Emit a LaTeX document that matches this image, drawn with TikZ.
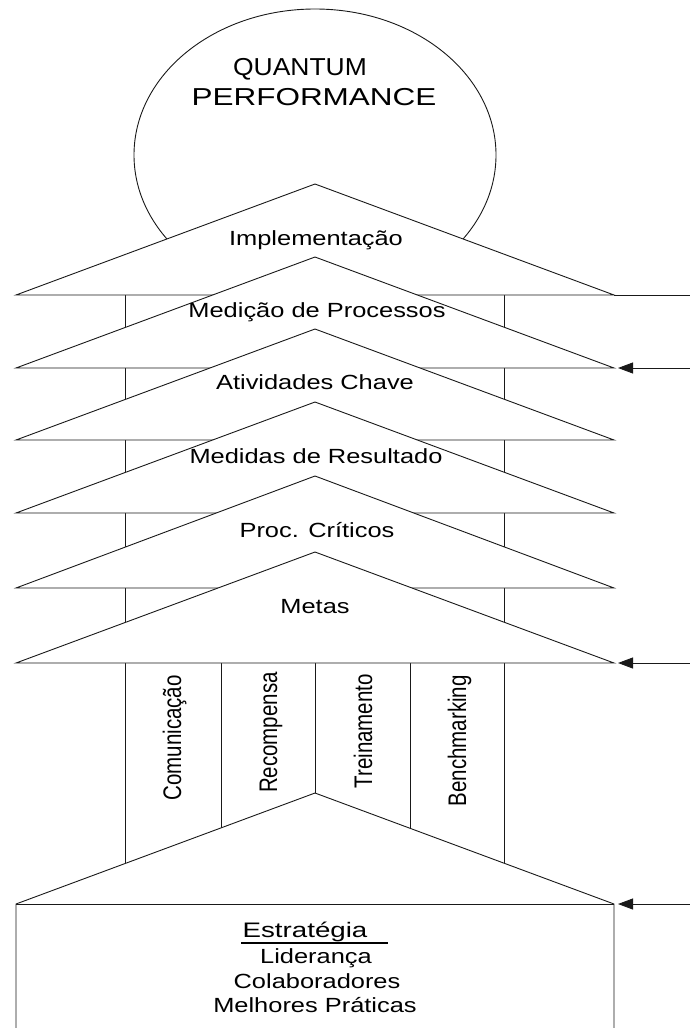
\documentclass[tikz,border=0pt]{standalone}
\usepackage{fontspec}
\setmainfont{Liberation Sans}
\usetikzlibrary{arrows.meta}
\begin{document}
\begin{tikzpicture}[x=1pt,y=-1pt,
  outline/.style={draw=black!90, line width=0.9pt},
  roof/.style={outline, fill=white, line join=miter},
  feed/.style={outline, -{Triangle[length=15pt,width=11pt]}, shorten >=4pt},
  lbl/.style={font=\fontsize{20.5}{24}\selectfont, inner sep=0pt, anchor=base, xscale=1.24},
  vlbl/.style={font=\fontsize{20.5}{24}\selectfont, inner sep=0pt, anchor=base east, xscale=1.24, rotate=90},
  titletext/.style={font=\fontsize{24.5}{28}\selectfont, inner sep=0pt, anchor=base},
]
\useasboundingbox (0,0) rectangle (690,1028);
\clip (0,0) rectangle (690,1028);

% the sun above the temple
\draw[outline] (315,155) ellipse [x radius=181pt, y radius=146pt];

% outer pillars and the four column dividers
\draw[outline] (125,295) -- (125,904);
\draw[outline] (504,295) -- (504,904);
\foreach \cx in {221,315,410}
  \draw[outline] (\cx,663) -- (\cx,904);

% stacked roofs, each one laid over the one above it
\foreach \i/\ay/\by in {0/184/295, 1/257/368, 2/329/440, 3/402/513, 4/476/588, 5/552/663}{
  \coordinate (L\i) at (16,\by);
  \coordinate (A\i) at (315,\ay);
  \coordinate (R\i) at (614,\by);
  \draw[roof] (L\i) -- (A\i) -- (R\i) -- cycle;
}

% base: strategy block with its roof
\coordinate (HL) at (16,904);
\coordinate (HA) at (315,793);
\coordinate (HR) at (614,904);
\draw[roof] (16,1040) -- (HL) -- (HA) -- (HR) -- (614,1040);
\draw[outline] (HL) -- (HR);

% lines coming in from the right edge
\coordinate (E0) at (690,295);
\coordinate (E1) at (690,368);
\coordinate (E5) at (690,663);
\coordinate (EH) at (690,904);
\draw[outline] (R0) -- (E0);
\draw[feed] (E1) -- (R1);
\draw[feed] (E5) -- (R5);
\draw[feed] (EH) -- (HR);

% title
\node[titletext, xscale=1.08] (quantum) at (300,75) {QUANTUM};
\node[titletext, xscale=1.285] (perf) at (314,105) {PERFORMANCE};

% roof labels
\node[lbl] (impl)  at (316,245) {Implementação};
\node[lbl] (medp)  at (317,317) {Medição de Processos};
\node[lbl] (ativ)  at (315,389) {Atividades Chave};
\node[lbl] (medr)  at (316,463) {Medidas de Resultado};
\node[lbl] (procc) at (317,537) {Proc. Críticos};
\node[lbl] (metas) at (315,613) {Metas};

% column labels
\node[vlbl] (comun) at (181,675) {Comunicação};
\node[vlbl] (recomp) at (277,672) {Recompensa};
\node[vlbl] (trein) at (372,674) {Treinamento};
\node[vlbl] (bench) at (466,675) {Benchmarking};

% strategy block text
\node[font=\fontsize{21}{24}\selectfont, inner sep=0pt, anchor=base, xscale=1.32] (estr) at (305,937) {Estratégia};
\draw[line width=1.3pt] (241,943) -- (388,943);
\node[lbl] (lider) at (316,963) {Liderança};
\node[lbl] (colab) at (317,988) {Colaboradores};
\node[lbl] (melh)  at (315,1012) {Melhores Práticas};
\end{tikzpicture}
\end{document}
